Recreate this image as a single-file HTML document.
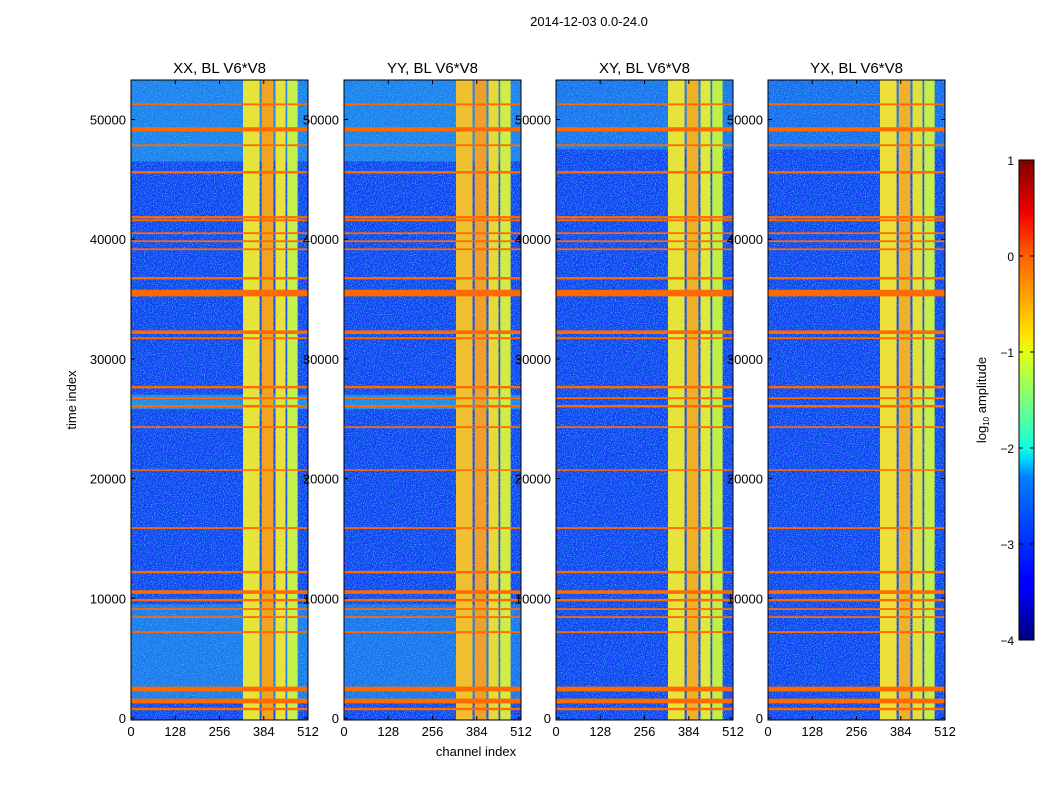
<!DOCTYPE html>
<html><head><meta charset="utf-8"><style>
html,body{margin:0;padding:0;background:#fff;}
svg{display:block;font-family:"Liberation Sans",sans-serif;}
</style></head><body>
<svg id="fig" width="1050" height="800" viewBox="0 0 1050 800" xmlns="http://www.w3.org/2000/svg">
<defs>
<filter id="noise" x="0" y="0" width="100%" height="100%">
<feTurbulence type="fractalNoise" baseFrequency="0.9" numOctaves="1" seed="3"/>
<feColorMatrix type="matrix" values="0 0 0 0 0.05  0 0 0 0 0.75  0 0 0 0 1  2.6 0 0 0 -1.25"/>
</filter>
<linearGradient id="jet" x1="0" y1="1" x2="0" y2="0">
<stop offset="0" stop-color="#00007f"/><stop offset="0.11" stop-color="#0000ff"/>
<stop offset="0.125" stop-color="#0000ff"/><stop offset="0.34" stop-color="#0080ff"/>
<stop offset="0.375" stop-color="#00d4ff"/><stop offset="0.4" stop-color="#10ffe0"/>
<stop offset="0.5" stop-color="#7dff7a"/><stop offset="0.6" stop-color="#e4ff13"/>
<stop offset="0.64" stop-color="#ffe000"/><stop offset="0.8" stop-color="#ff6000"/>
<stop offset="0.89" stop-color="#f00000"/><stop offset="1" stop-color="#7f0000"/>
</linearGradient>
</defs>
<text x="589" y="26" font-size="13" text-anchor="middle">2014-12-03 0.0-24.0</text>
<text x="76" y="400" font-size="13" text-anchor="middle" transform="rotate(-90 76 400)">time index</text>
<text x="476" y="756" font-size="13" text-anchor="middle">channel index</text>
<g id="panels"></g>
<g>
<rect x="1019" y="160" width="15" height="480" fill="url(#jet)" stroke="#000" stroke-width="1"/>
<g id="cbticks"></g>
<text x="986" y="400" font-size="13" text-anchor="middle" transform="rotate(-90 986 400)">log<tspan font-size="8" dy="3">10</tspan><tspan dy="-3"> amplitude</tspan></text>
</g>
</svg>
<script>
const panelTitles = ["XX, BL V6*V8","YY, BL V6*V8","XY, BL V6*V8","YX, BL V6*V8"];
const xTicks = [0,128,256,384,512];
const yTicks = [0,10000,20000,30000,40000,50000];
const cbTicks = [1,0,-1,-2,-3,-4];
// horizontal RFI rows: [time index, thickness in time units]
const hTimes = [51270,49180,47850,45590,41830,41580,40500,39830,39160,36740,35500,32230,31730,27640,26720,26050,24300,20710,15870,12190,10520,9850,9100,8430,7180,2420,1420,750];
const hWidths = [150,350,150,200,200,150,150,150,150,200,550,300,150,200,150,200,150,80,150,200,300,200,150,150,150,400,400,200];
// channel blocks: start, end, colour per panel
const blockStart = [324,378,418,452];
const blockEnd = [372,412,447,482];
const blockColors = [
 ["#e6e43a","#f2a420","#e8e23a","#c6f04a"],
 ["#f0c030","#f0a028","#e8d838","#d2ec44"],
 ["#e6e43a","#eeb028","#e0e83c","#c0f048"],
 ["#eee03a","#f0b02a","#e4e03a","#c4ee48"]];
// lighter (cyan) regions: [panel, t0, t1, opacity]
const cyanPanels = [0,0,1,1,2,3,0,1];
const cyanT0 = [46500,1500,46500,1500,47500,47500,25800,25800];
const cyanT1 = [53400,9500,53400,9500,53400,53400,27000,27000];
const cyanOp = [0.45,0.4,0.45,0.35,0.35,0.3,0.5,0.5];

const NS="http://www.w3.org/2000/svg";
const panelX=[131,344,556,768], PW=177, PT=80, PB=720;
const tMax=53400;
function xs(i,c){return panelX[i]+c*PW/512;}
function ys(t){return PB-2+(-t)*0.01197+0;}
function mk(tag,attrs,parent){const e=document.createElementNS(NS,tag);for(const k in attrs)e.setAttribute(k,attrs[k]);parent.appendChild(e);return e;}
const root=document.getElementById('panels');
panelTitles.forEach((title,i)=>{
 const g=mk('g',{},root);
 
 
 const x0=panelX[i];
 const bg=mk('rect',{x:x0,y:PT,width:PW,height:PB-PT,fill:'#1440f0'},g);
 
 
 const nz=mk('rect',{x:x0,y:PT,width:PW,height:PB-PT,fill:'#fff',filter:'url(#noise)'},g);
 
 
 cyanPanels.forEach((p,k)=>{ if(p!==i) return;
  const y1=Math.max(PT,ys(cyanT1[k])), y2=ys(cyanT0[k]);
  const r=mk('rect',{x:x0,y:y1,width:PW,height:y2-y1,fill:'#30c8e8',opacity:cyanOp[k]},g);
  
  
 });
 blockStart.forEach((s,k)=>{
  const r=mk('rect',{x:xs(i,s),y:PT,width:xs(i,blockEnd[k])-xs(i,s),height:PB-PT,fill:blockColors[i][k]},g);
  
  
 });
 hTimes.forEach((t,k)=>{
  const h=Math.max(1.5,hWidths[k]*0.01197);
  const r=mk('rect',{x:x0,y:ys(t)-h/2,width:PW,height:h,fill:'#ff6a00'},g);
  
  
 });
 const fr=mk('rect',{x:x0,y:PT,width:PW,height:PB-PT,fill:'none',stroke:'#000','stroke-width':1},g);
 
 
 const tt=mk('text',{x:x0+PW/2,y:73,'font-size':15,'text-anchor':'middle'},g);
 tt.textContent=title;
 
 
 xTicks.forEach(v=>{
  const x=xs(i,v);
  mk('line',{x1:x,x2:x,y1:PB,y2:PB-4,stroke:'#000'},g);
  mk('line',{x1:x,x2:x,y1:PT,y2:PT+4,stroke:'#000'},g);
  const l=mk('text',{x:x,y:736,'font-size':13,'text-anchor':'middle'},g);
  l.textContent=v;
  
  
 });
 yTicks.forEach(v=>{
  const y=ys(v);
  mk('line',{x1:x0,x2:x0+4,y1:y,y2:y,stroke:'#000'},g);
  mk('line',{x1:x0+PW,x2:x0+PW-4,y1:y,y2:y,stroke:'#000'},g);
  const l=mk('text',{x:x0-5,y:y+5,'font-size':13,'text-anchor':'end'},g);
  l.textContent=v;
  
  
 });
});
const cb=document.getElementById('cbticks');
cbTicks.forEach(v=>{
 const y=160+(1-v)*96;
 mk('line',{x1:1019,x2:1023,y1:y,y2:y,stroke:'#000'},cb);
 mk('line',{x1:1034,x2:1030,y1:y,y2:y,stroke:'#000'},cb);
 const l=mk('text',{x:1014,y:y+5,'font-size':12,'text-anchor':'end'},cb);
 l.textContent=v<0?'\u2212'+(-v):String(v);
 
 
});
</script>
</body></html>
